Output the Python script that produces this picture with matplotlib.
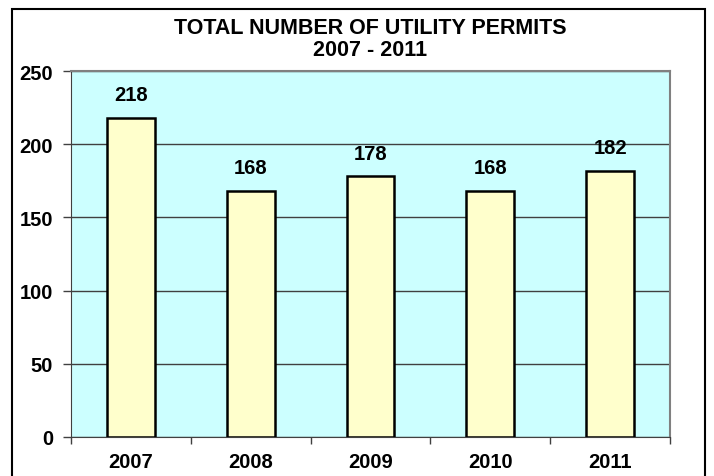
import matplotlib
matplotlib.use("Agg")
import matplotlib.pyplot as plt
from matplotlib.patches import Rectangle

years = ["2007", "2008", "2009", "2010", "2011"]
permits = [218, 168, 178, 168, 182]
yticks = [0, 50, 100, 150, 200, 250]

plt.rcParams['font.family'] = ['Liberation Sans', 'DejaVu Sans']
FS = 14.5
TFS = 15.5

fig = plt.figure(figsize=(7.14, 4.77), dpi=100)
W, H = 714, 477
ax = fig.add_axes([71 / W, 1 - 438 / H, (670 - 71) / W, (438 - 72) / H])
ax.set_facecolor('#CCFFFF')

x = list(range(len(years)))
bars = ax.bar(x, permits, width=0.4, color='#FFFFCC', edgecolor='black', linewidth=1.8, zorder=3)
for xi, v in zip(x, permits):
    ax.annotate(str(v), (xi, v), xytext=(0, 10), textcoords='offset points',
                ha='center', va='bottom', fontsize=FS, fontweight='bold')

ax.set_xlim(-0.5, len(years) - 0.5)
ax.set_ylim(0, 250)
ax.set_yticks(yticks)
ax.set_yticklabels([str(t) for t in yticks], fontsize=FS, fontweight='bold')
ax.set_xticks(x)
ax.set_xticklabels(years, fontsize=FS, fontweight='bold')
ax.set_xticks([i + 0.5 for i in range(-1, len(years))], minor=True)
ax.tick_params(axis='x', which='major', length=0, pad=11)
ax.tick_params(axis='x', which='minor', length=5, width=1, color='#404040', direction='out')
ax.tick_params(axis='y', length=6, width=1, color='#404040', direction='out', pad=7)
ax.yaxis.grid(True, color='#404040', linewidth=1, zorder=1)
ax.set_axisbelow(True)
for s in ['top', 'right']:
    ax.spines[s].set_color('#808080')
    ax.spines[s].set_linewidth(1.5)
ax.spines['left'].set_color('#404040')
ax.spines['bottom'].set_color('#404040')

fig.text(0.5 * (71 + 670) / W, 1 - 28 / H, "TOTAL NUMBER OF UTILITY PERMITS", ha='center', va='center',
         fontsize=TFS, fontweight='bold')
fig.text(0.5 * (71 + 670) / W, 1 - 51 / H, "2007 - 2011", ha='center', va='center',
         fontsize=TFS, fontweight='bold')

fig.patches.append(Rectangle((12 / W, -0.05), (705 - 12) / W, 1.05 - 10 / H, transform=fig.transFigure,
                             fill=False, edgecolor='black', linewidth=1.5))

fig.savefig('out.png', dpi=100)
